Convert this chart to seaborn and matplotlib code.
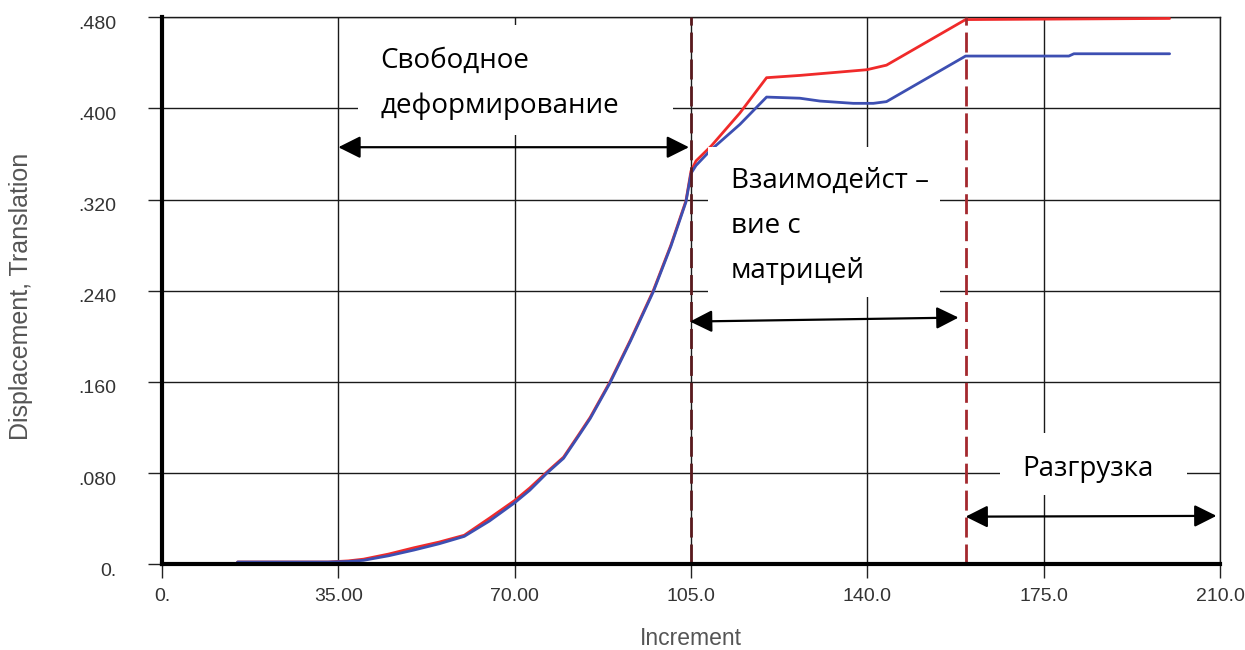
import numpy as np
import pandas as pd
import matplotlib
matplotlib.use("Agg")
import matplotlib.pyplot as plt
import matplotlib.transforms as mtransforms
from matplotlib.patches import Rectangle
import seaborn as sns

# ---------------- data ----------------
x_red = [15, 33, 37, 40, 45, 50, 55, 60, 65, 70, 73, 76.4, 79.7, 82.6, 85, 88.9, 93, 97.5, 101, 104, 105,
         106, 109, 114.7, 120, 126.6, 134.6, 139.9, 143.8, 159.5, 200]
y_red = [0.002, 0.002, 0.003, 0.0045, 0.009, 0.0145, 0.0195, 0.0255, 0.0405, 0.056, 0.067, 0.081, 0.094, 0.113,
         0.129, 0.160, 0.197, 0.240, 0.280, 0.319, 0.345,
         0.354, 0.367, 0.396, 0.427, 0.429, 0.432, 0.434, 0.438, 0.478, 0.479]

x_blue = [15, 33, 37, 40, 45, 50, 55, 60, 65, 70, 73, 76.4, 79.7, 82.6, 85, 88.9, 93, 97.5, 101, 104, 105,
          106, 108.8, 114.7, 120, 126.6, 130.6, 137.2, 141.2, 143.8, 159.5, 180, 181, 200]
y_blue = [0.002, 0.002, 0.0025, 0.0035, 0.0075, 0.0125, 0.018, 0.0245, 0.038, 0.054, 0.065, 0.080, 0.093, 0.112,
          0.128, 0.159, 0.196, 0.239, 0.279, 0.318, 0.343,
          0.350, 0.363, 0.386, 0.410, 0.409, 0.4065, 0.4045, 0.4045, 0.406, 0.446, 0.446, 0.448, 0.448]

x_ticks = [0, 35, 70, 105, 140, 175, 210]
x_tick_labels = ["0.", "35.00", "70.00", "105.0", "140.0", "175.0", "210.0"]
y_ticks = [0, 0.08, 0.16, 0.24, 0.32, 0.40, 0.48]
y_tick_labels = ["0.", ".080", ".160", ".240", ".320", ".400", ".480"]

stage_bounds = [105, 159.5]
stage_colors = ["#5a1a1e", "#a3282e"]

# annotation layout (data coordinates)
arrows = [((35.0, 0.366), (104.6, 0.366)),
          ((104.8, 0.213), (158.1, 0.2165)),
          ((159.5, 0.0418), (209.3, 0.0425))]
boxes = [(38.9, 0.3767, 101.4, 0.4732),
         (108.4, 0.2346, 154.4, 0.3662),
         (166.3, 0.0608, 203.5, 0.1152)]
labels = [(43.3, 0.4352, "Свободное"), (43.3, 0.3957, "деформирование"),
          (112.9, 0.3300, "Взаимодейст –"), (112.9, 0.2908, "вие с"), (112.9, 0.2514, "матрицей"),
          (170.8, 0.0775, "Разгрузка")]

# ---------------- figure ----------------
sns.set_style("white")
plt.rcParams["font.family"] = ["Liberation Sans", "DejaVu Sans"]

fig = plt.figure(figsize=(12.45, 6.5), dpi=100)
ax = fig.add_axes([162 / 1245, 85.7 / 650, 1058 / 1245, 547 / 650])

df_red = pd.DataFrame({"x": x_red, "y": y_red})
df_blue = pd.DataFrame({"x": x_blue, "y": y_blue})
sns.lineplot(data=df_red, x="x", y="y", ax=ax, color="#f02a2a", lw=2.0, sort=False, estimator=None, zorder=3)
sns.lineplot(data=df_blue, x="x", y="y", ax=ax, color="#3d4fb2", lw=2.0, sort=False, estimator=None, zorder=3.1)

for xb, c in zip(stage_bounds, stage_colors):
    ax.axvline(xb, color=c, lw=2.0, dashes=(7.2, 2.5), zorder=4)

ax.set_xlim(0, 210)
ax.set_ylim(0, 0.48)
ax.set_xticks(x_ticks)
ax.set_xticklabels(x_tick_labels)
ax.set_yticks(y_ticks)
ax.set_yticklabels(y_tick_labels)

ax.grid(True, color="#1a1a1a", lw=1.0, zorder=1)
ax.set_axisbelow(True)

for s in ["left", "bottom"]:
    ax.spines[s].set_linewidth(3.0)
    ax.spines[s].set_color("black")
    ax.spines[s].set_zorder(6)
for s in ["top", "right"]:
    ax.spines[s].set_linewidth(1.0)
    ax.spines[s].set_color("#1a1a1a")

tick_font = ["Liberation Sans Narrow", "Liberation Sans", "DejaVu Sans"]
ax.tick_params(axis="both", which="major", direction="out", length=10, width=1.0, color="#222222",
               labelcolor="#333333", labelsize=14, left=True, bottom=True)
ax.tick_params(axis="y", pad=23)
ax.tick_params(axis="x", pad=7)
for lab in ax.get_xticklabels() + ax.get_yticklabels():
    lab.set_family(tick_font)
offset = mtransforms.ScaledTranslation(0, -5 / 100, fig.dpi_scale_trans)
for lab in ax.get_yticklabels():
    lab.set_transform(lab.get_transform() + offset)

ax.set_xlabel("Increment", fontsize=16.5, color="#555555", va="center")
ax.set_ylabel("Displacement, Translation", fontsize=18, color="#555555", va="center")
ax.xaxis.set_label_coords(0.5, -0.135)
ax.yaxis.set_label_coords(-0.133, 0.489)

# white label boxes
for (x0, y0, x1, y1) in boxes:
    ax.add_patch(Rectangle((x0, y0), x1 - x0, y1 - y0, facecolor="white", edgecolor="none", zorder=5))

label_font = ["Open Sans", "DejaVu Sans"]
for (lx, ly, s) in labels:
    ax.text(lx, ly, s, ha="left", va="baseline", fontsize=20, family=label_font, color="black", zorder=7)

for (p0, p1) in arrows:
    ax.annotate("", xy=p1, xytext=p0,
                arrowprops=dict(arrowstyle="<|-|>,head_length=0.9,head_width=0.45", color="black",
                                lw=1.6, shrinkA=0, shrinkB=0, mutation_scale=15),
                annotation_clip=False, zorder=8)

fig.savefig("out.png", dpi=100)
